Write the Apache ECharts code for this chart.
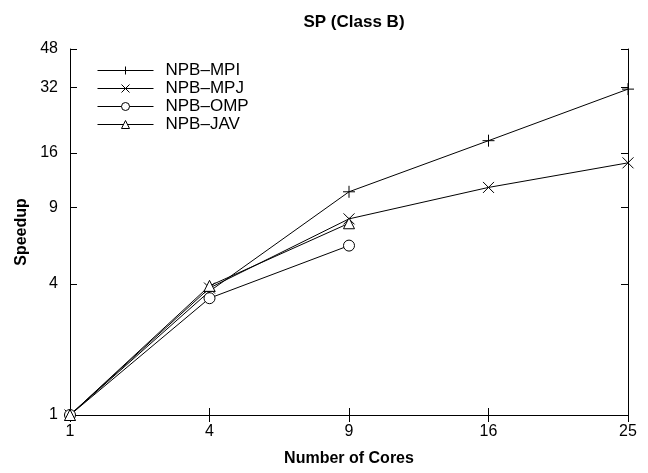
<!DOCTYPE html>
<html><head><meta charset="utf-8">
<script src="https://cdn.jsdelivr.net/npm/echarts@6/dist/echarts.min.js"></script>
<style>html,body{margin:0;padding:0;background:#fff}#c{width:648px;height:473px}</style>
</head><body><div id="c"></div>
<script>
const cores = ['1', '4', '9', '16', '25'];
const mpi = [1, 3.7, 10.6, 18.2, 31.4];
const mpj = [1, 3.83, 7.96, 11.1, 14.4];
const omp = [1, 3.44, 6.0, null, null];
const jav = [1, 3.92, 7.6, null, null];
const yTicks = [1, 4, 9, 16, 32, 48];

const lg = v => v == null ? null : Math.log2(v);
const tickPos = yTicks.map(lg);
const F = 'Liberation Sans, Arial, sans-serif';
const plus = 'path://M0,5L10,5M5,0L5,10';
const cross = 'path://M0,0L10,10M10,0L0,10';

function mk(name, data, symbol, size) {
  return {
    name, type: 'line', data: data.map(lg), symbol, symbolSize: size,
    showAllSymbol: true, connectNulls: false,
    lineStyle: { color: '#000', width: 1 },
    itemStyle: { color: symbol.startsWith('path') ? 'none' : '#fff', borderColor: '#000', borderWidth: 1 },
    emphasis: { disabled: true }, animation: false
  };
}

const chart = echarts.init(document.getElementById('c'));
const yCommon = {
  type: 'value', min: 0, max: Math.log2(48),
  axisLine: { show: true, lineStyle: { color: '#000', width: 1 } },
  splitLine: { show: false },
};
chart.setOption({
  animation: false,
  title: { text: 'SP (Class B)', left: 349, top: 9, textAlign: 'center',
    textStyle: { fontFamily: F, fontSize: 17, fontWeight: 'bold', color: '#000' } },
  legend: {
    orient: 'vertical', left: 92, top: 57, itemWidth: 56, itemHeight: 10, itemGap: 1,
    itemStyle: { borderWidth: 1 }, lineStyle: { width: 1 },
    textStyle: { fontFamily: F, fontSize: 17, lineHeight: 17, color: '#000', padding: [0, 0, 0, 7] },
    data: ['NPB\u2013MPI', 'NPB\u2013MPJ', 'NPB\u2013OMP', 'NPB\u2013JAV']
  },
  grid: { left: 70, right: 20, top: 49, bottom: 58, containLabel: false },
  xAxis: [{
    type: 'category', data: cores, boundaryGap: false,
    name: 'Number of Cores', nameLocation: 'middle', nameGap: 36,
    nameTextStyle: { fontFamily: F, fontSize: 16, fontWeight: 'bold', color: '#000' },
    axisLine: { lineStyle: { color: '#000', width: 1 } },
    axisTick: { inside: true, length: 7, lineStyle: { color: '#000' } },
    axisLabel: { fontFamily: F, fontSize: 16, color: '#000', margin: 9 },
    splitLine: { show: false }
  }, {
    type: 'category', data: cores, boundaryGap: false, position: 'top',
    axisLine: { lineStyle: { color: '#000', width: 1 } },
    axisTick: { inside: true, length: 7, lineStyle: { color: '#000' } },
    axisLabel: { show: false }, splitLine: { show: false }
  }],
  yAxis: [Object.assign({}, yCommon, {
    position: 'left',
    name: 'Speedup', nameLocation: 'middle', nameGap: 40,
    nameTextStyle: { fontFamily: F, fontSize: 16, fontWeight: 'bold', color: '#000' },
    axisTick: { show: true, inside: true, length: 7, customValues: tickPos, lineStyle: { color: '#000' } },
    axisLabel: { fontFamily: F, fontSize: 16, color: '#000', margin: 12, customValues: tickPos,
      formatter: v => String(Math.round(Math.pow(2, v))) }
  }), Object.assign({}, yCommon, {
    position: 'right',
    axisTick: { show: true, inside: true, length: 7, customValues: tickPos, lineStyle: { color: '#000' } },
    axisLabel: { show: false, customValues: tickPos }
  })],
  series: [
    mk('NPB\u2013MPI', mpi, plus, 12),
    mk('NPB\u2013MPJ', mpj, cross, 11),
    mk('NPB\u2013OMP', omp, 'circle', 11),
    mk('NPB\u2013JAV', jav, 'triangle', 11)
  ]
});
</script></body></html>
